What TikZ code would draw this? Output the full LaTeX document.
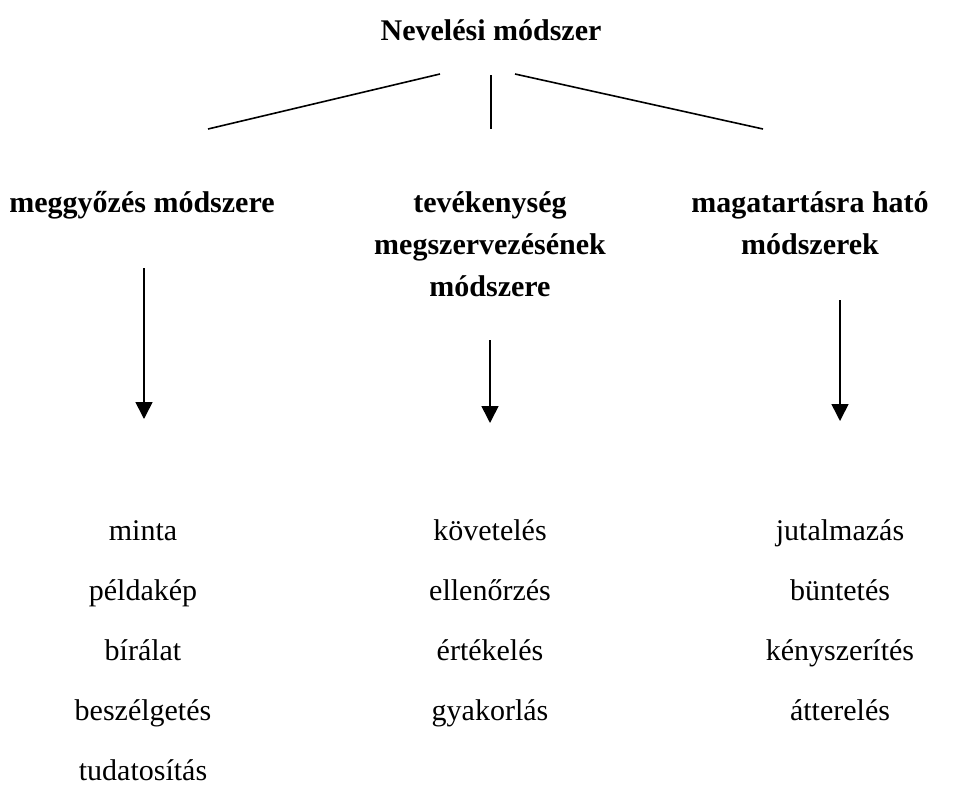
\documentclass[tikz,border=0pt]{standalone}
\usepackage{fontspec}
\setmainfont{Liberation Serif}
\usetikzlibrary{arrows.meta}
\begin{document}
\begin{tikzpicture}[x=1pt,y=-1pt,
  txt/.style={font=\fontsize{30}{36}\selectfont, inner sep=0pt, anchor=base, align=center},
  head/.style={txt, font=\fontsize{30}{42}\selectfont\bfseries},
  branch/.style={line width=1.6pt},
  down/.style={line width=1.6pt, -{Triangle[width=17pt,length=17pt]}}]
\useasboundingbox (0,0) rectangle (958,787);
% title
\node[head] (title) at (491,40) {Nevelési módszer};
% three method groups
\node[head] (meg) at (142,212) {meggyőzés módszere};
\node[head] (tev) at (490,212) {tevékenység};
\node[head] (tev2) at (490,254) {megszervezésének};
\node[head] (tev3) at (490,296) {módszere};
\node[head] (mag) at (810,212) {magatartásra ható};
\node[head] (mag2) at (810,254) {módszerek};
% branch lines under the title
\coordinate (bl1) at (440,74); \coordinate (bl2) at (208,129);
\coordinate (bm1) at (491,75); \coordinate (bm2) at (491,129);
\coordinate (br1) at (515,74); \coordinate (br2) at (763,129);
\draw[branch] (bl1) -- (bl2);
\draw[branch] (bm1) -- (bm2);
\draw[branch] (br1) -- (br2);
% arrows to the lists
\coordinate (al1) at (144,268); \coordinate (al2) at (144,419);
\coordinate (am1) at (490,340); \coordinate (am2) at (490,423);
\coordinate (ar1) at (840,300); \coordinate (ar2) at (840,421);
\draw[down] (al1) -- (al2);
\draw[down] (am1) -- (am2);
\draw[down] (ar1) -- (ar2);
% lists
\node[txt] (l1) at (143,540) {minta};
\node[txt] (l2) at (143,600) {példakép};
\node[txt] (l3) at (143,660) {bírálat};
\node[txt] (l4) at (143,720) {beszélgetés};
\node[txt] (l5) at (143,780) {tudatosítás};
\node[txt] (m1) at (490,540) {követelés};
\node[txt] (m2) at (490,600) {ellenőrzés};
\node[txt] (m3) at (490,660) {értékelés};
\node[txt] (m4) at (490,720) {gyakorlás};
\node[txt] (r1) at (840,540) {jutalmazás};
\node[txt] (r2) at (840,600) {büntetés};
\node[txt] (r3) at (840,660) {kényszerítés};
\node[txt] (r4) at (840,720) {átterelés};
\end{tikzpicture}
\end{document}
